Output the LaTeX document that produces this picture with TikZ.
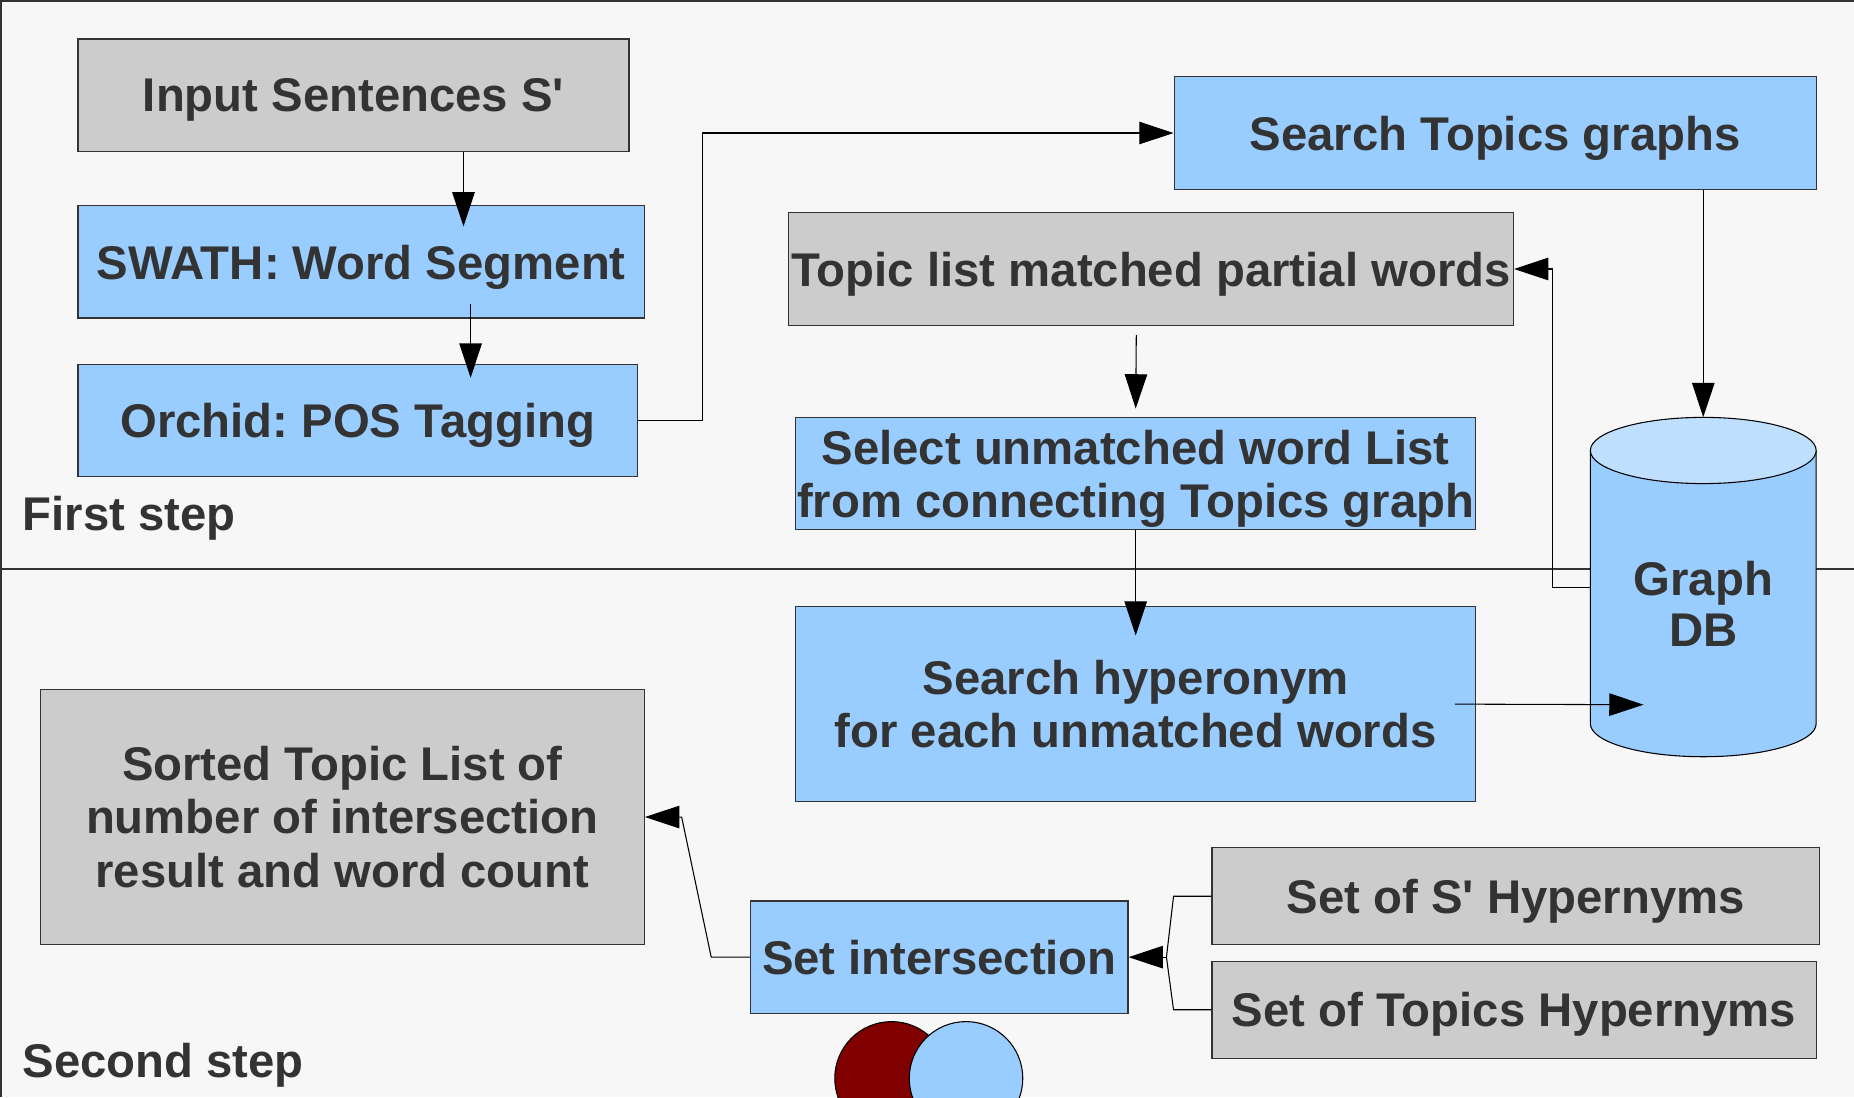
\documentclass[tikz,border=0pt]{standalone}
\usepackage{fontspec}
\setmainfont{Liberation Sans}
\usetikzlibrary{arrows.meta,calc}
\definecolor{bg}{HTML}{F7F7F7}
\definecolor{boxgray}{HTML}{CCCCCC}
\definecolor{boxblue}{HTML}{99CCFF}
\definecolor{dbtop}{HTML}{BFDFFF}
\definecolor{txt}{HTML}{333333}
\definecolor{edge}{HTML}{333333}
\definecolor{darkred}{HTML}{800000}
\frenchspacing
\begin{document}
\begin{tikzpicture}[x=1pt,y=-1pt,
  box/.style={rectangle, draw=edge, line width=1pt, inner sep=0pt, text=txt,
    font=\bfseries\fontsize{40}{45}\selectfont, align=center},
  graybox/.style={box, fill=boxgray},
  bluebox/.style={box, fill=boxblue},
  flat/.style={text depth=0pt},
  lbl/.style={text=txt, font=\bfseries\fontsize{40}{45}\selectfont, inner sep=0pt, anchor=base west},
  conn/.style={draw=black, line width=0.9pt},
  arr/.style={conn, -{Triangle[length=29pt,width=19pt]}}]
\clip (0,0) rectangle (1568,928);
\fill[bg] (0,0) rectangle (1568,928);
\draw[edge, line width=1.5pt] (0,1) -- (1568,1);
\draw[edge, line width=1.5pt] (1,0) -- (1,928);
\draw[edge, line width=1.5pt] (0,481) -- (1568,481);

% boxes
\node[graybox, flat, minimum width=466pt, minimum height=95pt] (inp) at (299,80.5) {Input Sentences S\textquotesingle};
\node[bluebox, flat, minimum width=479pt, minimum height=95pt] (swath) at (305.5,221.5) {SWATH: Word Segment};
\node[bluebox, flat, minimum width=473pt, minimum height=95pt] (orchid) at (302.5,355.5) {Orchid: POS Tagging};
\node[bluebox, flat, minimum width=543pt, minimum height=95pt] (stg) at (1264.5,112.5) {Search Topics graphs};
\node[graybox, flat, minimum width=613pt, minimum height=95pt] (tlm) at (973.5,227.5) {Topic list matched partial words};
\node[bluebox, flat, minimum width=575pt, minimum height=95pt] (sel) at (960.5,400.5) {Select unmatched word List\\from connecting Topics graph};
\node[bluebox, minimum width=575pt, minimum height=165pt] (shy) at (960.5,595.5) {Search hyperonym\\for each unmatched words};
\node[graybox, minimum width=511pt, minimum height=216pt] (sorted) at (289.5,691) {Sorted Topic List of\\number of intersection\\result and word count};
\node[bluebox, flat, minimum width=319pt, minimum height=95pt] (sint) at (794.5,809.5) {Set intersection};
\node[graybox, flat, minimum width=514pt, minimum height=82pt] (ss) at (1282,758) {Set of S\textquotesingle{} Hypernyms};
\node[graybox, flat, minimum width=511pt, minimum height=82pt] (st) at (1280.5,854) {Set of Topics Hypernyms};

% cylinder (Graph DB)
\fill[boxblue] (1345,381) -- (1345,612) arc[start angle=180, end angle=360, x radius=95.5pt, y radius=28pt] -- (1536,381) -- cycle;
\draw[black, line width=0.9pt] (1345,381) -- (1345,612) arc[start angle=180, end angle=360, x radius=95.5pt, y radius=28pt] -- (1536,381);
\draw[black, line width=0.9pt, fill=dbtop] (1440.5,381) ellipse [x radius=95.5pt, y radius=28pt];
\node[minimum width=191pt, minimum height=287pt, inner sep=0pt] (db) at (1440.5,496.5) {};
\node[text=txt, font=\bfseries\fontsize{40}{43}\selectfont, align=center, inner sep=0pt] (dbl) at (1440.5,511) {Graph\\DB};

% intersection symbol
\node[circle, draw=black, line width=0.9pt, fill=darkred, minimum size=96pt, inner sep=0pt] (c1) at (754,912) {};
\node[circle, draw=black, line width=0.9pt, fill=boxblue, minimum size=96pt, inner sep=0pt] (c2) at (817,912) {};

% labels
\node[lbl] (first) at (19,449) {First step};
\node[lbl] (second) at (19,911) {Second step};

% connectors
\draw[arr] ([xshift=93pt]inp.south) -- ([xshift=86.5pt,yshift=-18pt]swath.north);
\draw[arr] ([xshift=92.5pt,yshift=-35.5pt]swath.center) -- ([xshift=95.5pt,yshift=-12pt]orchid.north);
\draw[arr] (orchid.east) -- ++(55,0) |- (stg.west);
\draw[arr] (stg.south -| db.north) -- (db.north);
\draw[arr] (db.west) -- ++(-32,0) |- (tlm.east);
\draw[arr] ([xshift=-12.5pt,yshift=-8pt]tlm.south) -- ([yshift=7pt]sel.north);
\draw[arr] (sel.south) -- ([yshift=-25pt]shy.north);
\draw[arr] ([xshift=-18pt]shy.east) -- ([xshift=-50.5pt,yshift=-99.5pt]db.center);
\coordinate (j) at ($(sint.east)+(32,0)$);
\draw[conn] (ss.west) -- ++(-32,0) -- (j);
\draw[conn] (st.west) -- ++(-32,0) -- (j);
\draw[arr] (j) -- (sint.east);
\draw[arr] (sint.west) -- ++(-33,0) -- ($(sorted.east)+(31,0)$) -- (sorted.east);
\end{tikzpicture}
\end{document}
